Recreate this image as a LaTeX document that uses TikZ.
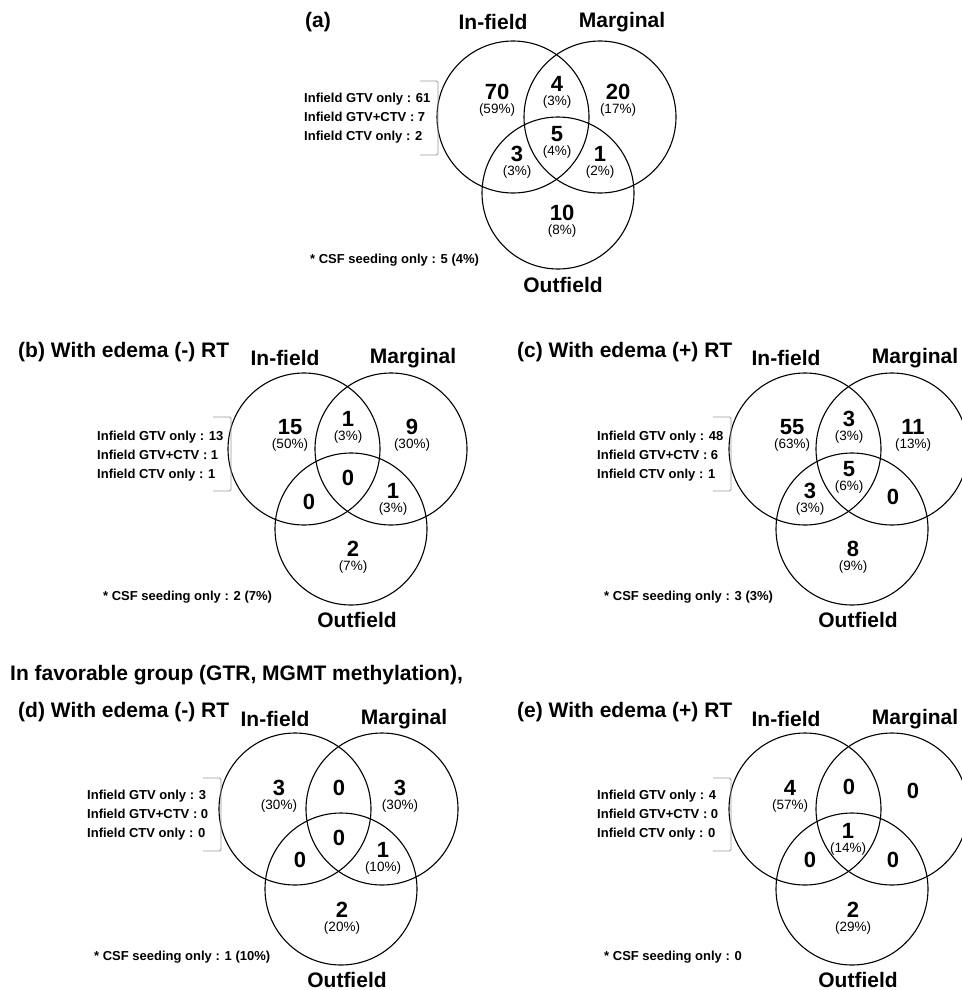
\documentclass[tikz,border=0pt]{standalone}
\usepackage{fontspec}
\setmainfont{Liberation Sans}
\usepackage{tikz}
\usetikzlibrary{positioning}
\tikzstyle{setcircle} = [circle, draw=black, line width=1.1pt, minimum size=152pt, inner sep=0pt]
\tikzstyle{setlabel} = [font=\fontsize{21}{24}\selectfont\bfseries, inner sep=0pt]
\tikzstyle{panel} = [font=\fontsize{21}{24}\selectfont\bfseries, inner sep=0pt, anchor=west]
\tikzstyle{numtext} = [font=\fontsize{22}{24}\selectfont\bfseries, inner sep=0pt]
\tikzstyle{pcttext} = [font=\fontsize{13.5}{16}\selectfont, inner sep=0pt]
\tikzstyle{note} = [font=\fontsize{13}{19}\selectfont\bfseries, align=left, inner sep=0pt, anchor=west]
\tikzstyle{bracket} = [draw=gray!80, line width=0.9pt, rounded corners=1.5pt]

\begin{document}
\begin{tikzpicture}[x=1pt, y=-1pt]
    \useasboundingbox (0,0) rectangle (961,990);

    % (a) all patients
    \node[setcircle] (ina) at (513,117) {};
    \node[setcircle] (mara) at (600,117) {};
    \node[setcircle] (outa) at (558,193) {};
    \node[setlabel] (titlea) at (318,22) {(a)};
    \node[setlabel] (labina) at (493,22) {In-field};
    \node[setlabel] (labmara) at (622,22) {Marginal};
    \node[setlabel] (labouta) at (563,285) {Outfield};
    \node[numtext] (na1) at (497,92) {70};
    \node[pcttext] (pa1) [below=4pt of na1] {(59\%)};
    \node[numtext] (na2) at (557,84) {4};
    \node[pcttext] (pa2) [below=4pt of na2] {(3\%)};
    \node[numtext] (na3) at (618,92) {20};
    \node[pcttext] (pa3) [below=4pt of na3] {(17\%)};
    \node[numtext] (na4) at (557,134) {5};
    \node[pcttext] (pa4) [below=4pt of na4] {(4\%)};
    \node[numtext] (na5) at (517,154) {3};
    \node[pcttext] (pa5) [below=4pt of na5] {(3\%)};
    \node[numtext] (na6) at (600,154) {1};
    \node[pcttext] (pa6) [below=4pt of na6] {(2\%)};
    \node[numtext] (na7) at (562,213) {10};
    \node[pcttext] (pa7) [below=4pt of na7] {(8\%)};
    \node[note] (notea) at (304,118) {Infield GTV only : 61\\Infield GTV+CTV : 7\\Infield CTV only : 2};
    \draw[bracket] (420,81) -- (438,81) -- (438,155) -- (420,155);
    \node[note] (csfa) at (310,260) {* CSF seeding only : 5 (4\%)};

    % (b) edema (-) RT
    \node[panel] (titleb) at (18,352) {(b) With edema (-) RT};
    \node[setcircle] (inb) at (304,449) {};
    \node[setcircle] (marb) at (391,449) {};
    \node[setcircle] (outb) at (351,529) {};
    \node[setlabel] (labinb) at (285,358) {In-field};
    \node[setlabel] (labmarb) at (413,358) {Marginal};
    \node[setlabel] (laboutb) at (357,620) {Outfield};
    \node[numtext] (nb1) at (290,427) {15};
    \node[pcttext] (pb1) [below=4pt of nb1] {(50\%)};
    \node[numtext] (nb2) at (348,419) {1};
    \node[pcttext] (pb2) [below=4pt of nb2] {(3\%)};
    \node[numtext] (nb3) at (412,427) {9};
    \node[pcttext] (pb3) [below=4pt of nb3] {(30\%)};
    \node[numtext] (nb4) at (348,478) {0};
    \node[numtext] (nb5) at (309,502) {0};
    \node[numtext] (nb6) at (393,491) {1};
    \node[pcttext] (pb6) [below=4pt of nb6] {(3\%)};
    \node[numtext] (nb7) at (353,549) {2};
    \node[pcttext] (pb7) [below=4pt of nb7] {(7\%)};
    \node[note] (noteb) at (97,456) {Infield GTV only : 13\\Infield GTV+CTV : 1\\Infield CTV only : 1};
    \draw[bracket] (213,417) -- (231,417) -- (231,491) -- (213,491);
    \node[note] (csfb) at (103,597) {* CSF seeding only : 2 (7\%)};

    % (c) edema (+) RT
    \node[panel] (titlec) at (517,352) {(c) With edema (+) RT};
    \node[setcircle] (inc) at (805,449) {};
    \node[setcircle] (marc) at (892,449) {};
    \node[setcircle] (outc) at (852,529) {};
    \node[setlabel] (labinc) at (786,358) {In-field};
    \node[setlabel] (labmarc) at (915,358) {Marginal};
    \node[setlabel] (laboutc) at (858,620) {Outfield};
    \node[numtext] (nc1) at (792,427) {55};
    \node[pcttext] (pc1) [below=4pt of nc1] {(63\%)};
    \node[numtext] (nc2) at (849,419) {3};
    \node[pcttext] (pc2) [below=4pt of nc2] {(3\%)};
    \node[numtext] (nc3) at (913,427) {11};
    \node[pcttext] (pc3) [below=4pt of nc3] {(13\%)};
    \node[numtext] (nc4) at (849,469) {5};
    \node[pcttext] (pc4) [below=4pt of nc4] {(6\%)};
    \node[numtext] (nc5) at (810,491) {3};
    \node[pcttext] (pc5) [below=4pt of nc5] {(3\%)};
    \node[numtext] (nc6) at (893,497) {0};
    \node[numtext] (nc7) at (853,549) {8};
    \node[pcttext] (pc7) [below=4pt of nc7] {(9\%)};
    \node[note] (notec) at (597,456) {Infield GTV only : 48\\Infield GTV+CTV : 6\\Infield CTV only : 1};
    \draw[bracket] (713,417) -- (731,417) -- (731,491) -- (713,491);
    \node[note] (csfc) at (604,597) {* CSF seeding only : 3 (3\%)};

    % favorable group
    \node[panel] (groupde) at (10,675) {In favorable group (GTR, MGMT methylation),};

    % (d) edema (-) RT
    \node[panel] (titled) at (18,712) {(d) With edema (-) RT};
    \node[setcircle] (ind) at (295,809) {};
    \node[setcircle] (mard) at (382,809) {};
    \node[setcircle] (outd) at (341,889) {};
    \node[setlabel] (labind) at (275,719) {In-field};
    \node[setlabel] (labmard) at (404,719) {Marginal};
    \node[setlabel] (laboutd) at (347,980) {Outfield};
    \node[numtext] (nd1) at (279,788) {3};
    \node[pcttext] (pd1) [below=4pt of nd1] {(30\%)};
    \node[numtext] (nd2) at (339,788) {0};
    \node[numtext] (nd3) at (400,788) {3};
    \node[pcttext] (pd3) [below=4pt of nd3] {(30\%)};
    \node[numtext] (nd4) at (339,838) {0};
    \node[numtext] (nd5) at (300,860) {0};
    \node[numtext] (nd6) at (383,850) {1};
    \node[pcttext] (pd6) [below=4pt of nd6] {(10\%)};
    \node[numtext] (nd7) at (342,910) {2};
    \node[pcttext] (pd7) [below=4pt of nd7] {(20\%)};
    \node[note] (noted) at (87,815) {Infield GTV only : 3\\Infield GTV+CTV : 0\\Infield CTV only : 0};
    \draw[bracket] (203,778) -- (221,778) -- (221,851) -- (203,851);
    \node[note] (csfd) at (94,957) {* CSF seeding only : 1 (10\%)};

    % (e) edema (+) RT
    \node[panel] (titlee) at (517,712) {(e) With edema (+) RT};
    \node[setcircle] (ine) at (805,809) {};
    \node[setcircle] (mare) at (892,809) {};
    \node[setcircle] (oute) at (852,889) {};
    \node[setlabel] (labine) at (786,719) {In-field};
    \node[setlabel] (labmare) at (915,719) {Marginal};
    \node[setlabel] (laboute) at (858,980) {Outfield};
    \node[numtext] (ne1) at (790,788) {4};
    \node[pcttext] (pe1) [below=4pt of ne1] {(57\%)};
    \node[numtext] (ne2) at (849,787) {0};
    \node[numtext] (ne3) at (913,791) {0};
    \node[numtext] (ne4) at (848,831) {1};
    \node[pcttext] (pe4) [below=4pt of ne4] {(14\%)};
    \node[numtext] (ne5) at (810,860) {0};
    \node[numtext] (ne6) at (893,860) {0};
    \node[numtext] (ne7) at (853,910) {2};
    \node[pcttext] (pe7) [below=4pt of ne7] {(29\%)};
    \node[note] (notee) at (597,815) {Infield GTV only : 4\\Infield GTV+CTV : 0\\Infield CTV only : 0};
    \draw[bracket] (713,778) -- (731,778) -- (731,851) -- (713,851);
    \node[note] (csfe) at (604,957) {* CSF seeding only : 0};
\end{tikzpicture}
\end{document}
